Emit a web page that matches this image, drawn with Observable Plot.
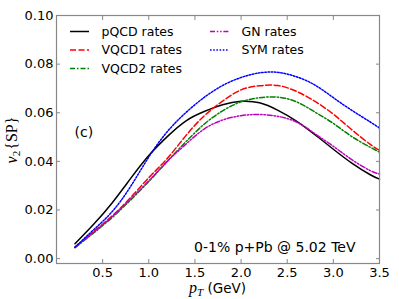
<!DOCTYPE html>
<html><head><meta charset="utf-8">
<script src="https://cdn.jsdelivr.net/npm/d3@7"></script>
<script src="https://cdn.jsdelivr.net/npm/@observablehq/plot@0.6"></script>
<style>body{margin:0;background:#fff;} svg{display:block;}</style>
</head><body><div id="chart"></div>
<script>
const pT    = [0.2, 0.4, 0.6, 0.8, 1.0, 1.2, 1.4, 1.6, 1.8, 2.0, 2.2, 2.4, 2.6, 2.8, 3.0, 3.2, 3.4, 3.5];
const pQCD  = [0.0061,0.0140,0.0228,0.0328,0.0424,0.0502,0.0566,0.0605,0.0633,0.0647,0.0641,0.0610,0.0566,0.0510,0.0450,0.0393,0.0345,0.0327];
const VQCD1 = [0.0047,0.0110,0.0175,0.0250,0.0333,0.0412,0.0505,0.0587,0.0648,0.0694,0.0711,0.0712,0.0688,0.0647,0.0594,0.0530,0.0470,0.0445];
const VQCD2 = [0.0045,0.0105,0.0168,0.0240,0.0317,0.0400,0.0480,0.0553,0.0608,0.0645,0.0662,0.0664,0.0645,0.0603,0.0556,0.0502,0.0458,0.0438];
const GN    = [0.0046,0.0108,0.0172,0.0244,0.0320,0.0400,0.0470,0.0533,0.0570,0.0588,0.0593,0.0585,0.0562,0.0514,0.0462,0.0407,0.0362,0.0348];
const SYM   = [0.0047,0.0118,0.0192,0.0295,0.0418,0.0522,0.0600,0.0663,0.0712,0.0745,0.0764,0.0766,0.0748,0.0714,0.0662,0.0610,0.0562,0.0537];
const seriesNames = ["pQCD rates","VQCD1 rates","VQCD2 rates","GN rates","SYM rates"];
const seriesValues = [pQCD, VQCD1, VQCD2, GN, SYM];
const xTicks = [0.5, 1.0, 1.5, 2.0, 2.5, 3.0, 3.5];
const yTicks = [0.00, 0.02, 0.04, 0.06, 0.08, 0.10];
const annotation = "0-1% p+Pb @ 5.02 TeV";
const panelLabel = "(c)";

const styles = [
  {stroke:"#000000", dash:"none"},
  {stroke:"#ff0000", dash:"6,2.5"},
  {stroke:"#008000", dash:"5,2,1.5,2"},
  {stroke:"#bf00bf", dash:"5,1.8,1.5,1.8,1.5,1.8"},
  {stroke:"#0000ff", dash:"1.6,1.6"}
];

const tables = seriesValues.map((vals, k) => vals.map((v, i) => ({x: pT[i], y: v, s: seriesNames[k]})));

const font = "DejaVu Sans";
const plot = Plot.plot({
  width: 399, height: 299,
  marginLeft: 56, marginRight: 20, marginTop: 15, marginBottom: 36,
  style: {fontFamily: font, fontSize: "13px", color: "#000", background: "#fff"},
  x: {domain: [0, 3.5]},
  y: {domain: [-0.002, 0.10]},
  marks: [
    ...tables.map((t, k) => Plot.line(t, {x: "x", y: "y", stroke: styles[k].stroke, strokeWidth: 1.5, strokeDasharray: styles[k].dash, curve: "natural", className: "series-" + k})),
    Plot.frame({stroke: "#888", strokeWidth: 1.2}),
    Plot.axisX(xTicks, {anchor: "bottom", tickSize: 0, tickPadding: 4, tickFormat: d3.format(".1f"), label: null, fontSize: 13}),
    Plot.axisY(yTicks, {anchor: "left", tickSize: 0, tickPadding: 3, tickFormat: d3.format(".2f"), label: null, fontSize: 13}),
    Plot.axisX(xTicks, {anchor: "bottom", tickSize: -4, text: null, label: null, stroke: "#888"}),
    Plot.axisX(xTicks, {anchor: "top", tickSize: -4, text: null, label: null, stroke: "#888"}),
    Plot.axisY(yTicks, {anchor: "left", tickSize: -4, text: null, label: null, stroke: "#888"}),
    Plot.axisY(yTicks, {anchor: "right", tickSize: -4, text: null, label: null, stroke: "#888"}),
    Plot.text([panelLabel], {frameAnchor: "top-left", dx: 18, dy: 112, fontSize: 14, textAnchor: "start", fontFamily: font}),
    Plot.text([annotation], {frameAnchor: "bottom-right", dx: -24, dy: -12, fontSize: 14, textAnchor: "end", fontFamily: font})
  ]
});
document.getElementById("chart").appendChild(plot);

const svg = d3.select(plot);
// enforce dash patterns on the line paths
styles.forEach((s, k) => {
  svg.selectAll(".series-" + k + " path").attr("stroke-dasharray", s.dash).style("stroke-dasharray", s.dash);
  svg.selectAll("g.series-" + k).attr("stroke-dasharray", s.dash);
});
// legend
const legPos = [[70, 31.5], [70, 50], [70, 68.5], [210, 31.5], [210, 50]];
const leg = svg.append("g").attr("font-family", font).attr("font-size", 12.5).attr("text-anchor", "start");
seriesNames.forEach((n, k) => {
  const [lx, ly] = legPos[k];
  leg.append("line").attr("x1", lx).attr("x2", lx + 19).attr("y1", ly).attr("y2", ly)
    .attr("stroke", styles[k].stroke).attr("stroke-width", 1.5)
    .style("stroke-dasharray", styles[k].dash);
  leg.append("text").attr("x", lx + 31.5).attr("y", ly).attr("dy", "0.35em").attr("text-anchor", "start").text(n);
});
// x label
const xl = svg.append("text").attr("x", 217.5).attr("y", 293).attr("text-anchor", "middle")
  .attr("font-family", font).attr("font-size", 13.5);
xl.append("tspan").attr("font-family", "Liberation Serif").attr("font-style", "italic").attr("font-size", 16).text("p");
xl.append("tspan").attr("font-family", "Liberation Serif").attr("font-style", "italic").attr("font-size", 11).attr("dy", 3).text("T");
xl.append("tspan").attr("dy", -3).text(" (GeV)");
// y label
const yl = svg.append("text").attr("transform", "translate(17,140) rotate(-90)").attr("text-anchor", "middle")
  .attr("font-family", "Liberation Serif").attr("font-size", 16);
yl.append("tspan").attr("font-style", "italic").text("v");
yl.append("tspan").attr("font-size", 11).attr("dy", 3).text("2");
yl.append("tspan").attr("dy", -3).attr("dx", 1).text("{SP}");
</script>
</body></html>
